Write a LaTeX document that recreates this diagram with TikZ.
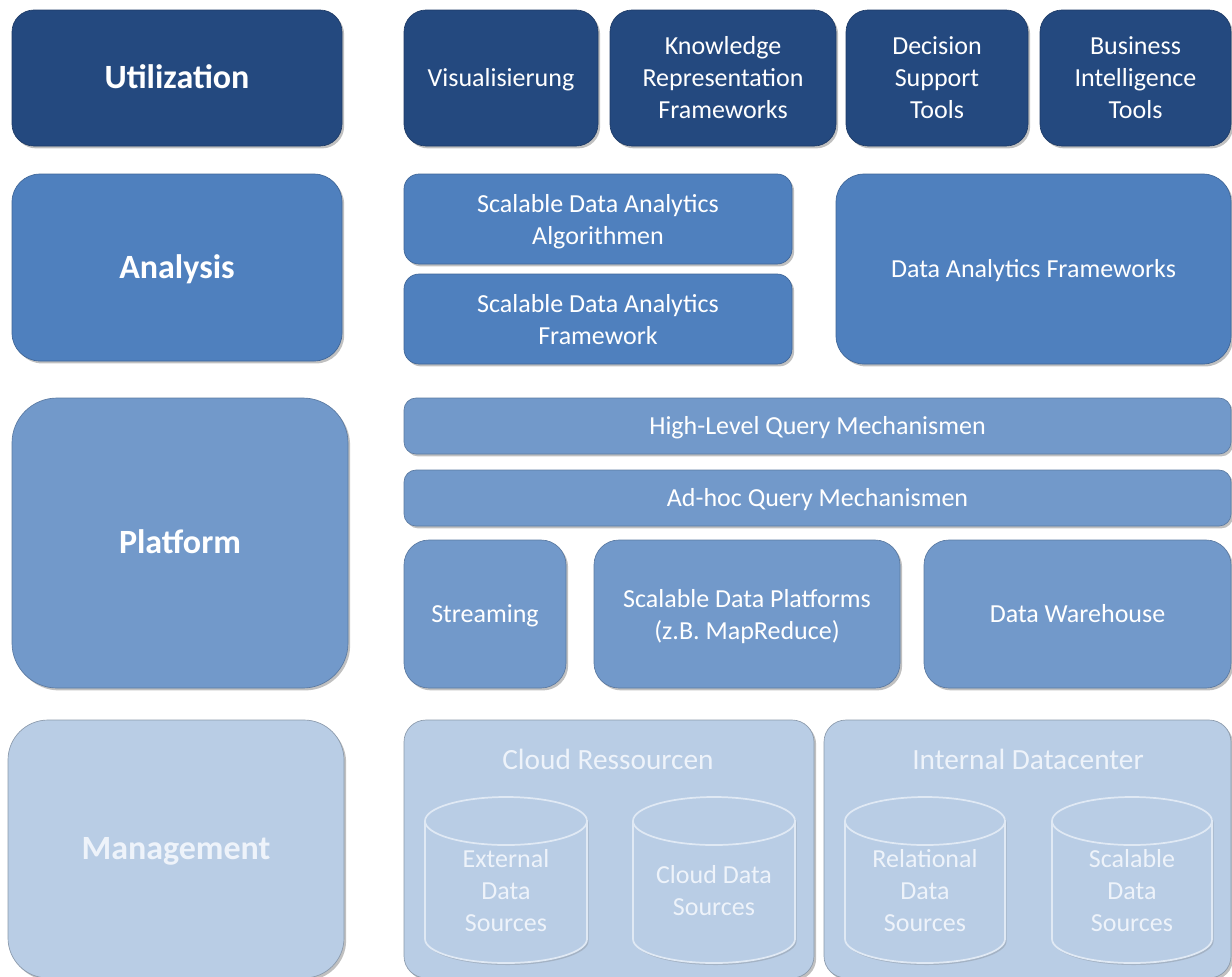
\documentclass[tikz,border=0pt]{standalone}
\usepackage{fontspec}
\setmainfont{Carlito}
\usetikzlibrary{shadows}
\definecolor{util}{HTML}{24497F}
\definecolor{ana}{HTML}{4F80BE}
\definecolor{plat}{HTML}{7299CA}
\definecolor{mgmt}{HTML}{B9CDE5}
\definecolor{mtext}{HTML}{EEF3FA}
\definecolor{cylline}{HTML}{E0E9F4}
\tikzset{
  base/.style={inner sep=0pt, align=center, text=white,
    font=\fontsize{19.5}{24}\selectfont,
    drop shadow={shadow xshift=1.6pt,shadow yshift=-1.8pt,opacity=0.35,fill=black!70}},
  ubox/.style={base, fill=util, draw=util!80!black, line width=0.5pt},
  abox/.style={base, fill=ana, draw=ana!80!black, line width=0.5pt},
  pbox/.style={base, fill=plat, draw=plat!80!black, line width=0.5pt},
  mbox/.style={base, fill=mgmt, draw=mgmt!75!black, line width=0.5pt, text=mtext},
  one/.style={text height=17pt, text depth=4.4pt},
  two/.style={text height=42pt, text depth=4pt},
  ttl/.style={font=\bfseries\fontsize{25.5}{30}\selectfont, text height=22pt, text depth=5.6pt},
  hdr/.style={text=mtext, font=\fontsize{22}{26}\selectfont, inner sep=0pt},
  ctext/.style={text=mtext, align=center, font=\fontsize{19.5}{24}\selectfont, inner sep=0pt},
  cylbody/.style={fill=mgmt, drop shadow={shadow xshift=1.2pt,shadow yshift=-1.5pt,opacity=0.25,fill=black!60}},
  cylline/.style={draw=cylline, line width=1.3pt},
}
% style, radius(px), name, x1, y1, x2, y2, text
\newcommand\blk[8]{%
  \node[#1, rounded corners={#2*0.75pt},
        minimum width={(#6-#4)*0.75pt}, minimum height={(#7-#5)*0.75pt}]
        (#3) at ({(#4+#6)/2},{(#5+#7)/2}) {#8};}
% name, x1, x2, text
\newcommand\cyl[4]{%
  \pgfmathsetmacro\cylcx{(#2+#3)/2}%
  \pgfmathsetmacro\cylrx{(#3-#2)/2*0.75}%
  \path[cylbody] (#2,821) -- (#2,939)
     arc[start angle=180,end angle=360,x radius=\cylrx pt,y radius=18pt]
     -- (#3,821)
     arc[start angle=0,end angle=180,x radius=\cylrx pt,y radius=18pt] -- cycle;
  \draw[cylline] (#2,821) -- (#2,939)
     arc[start angle=180,end angle=360,x radius=\cylrx pt,y radius=18pt]
     -- (#3,821);
  \draw[cylline] (\cylcx,821) ellipse[x radius=\cylrx pt, y radius=18pt];
  \node[ctext] (#1) at (\cylcx,891) {#4};}
\begin{document}
\begin{tikzpicture}[x=0.75pt,y=-0.75pt]
\useasboundingbox[fill=white] (0,0) rectangle (1232,976);
% Utilization row
\blk{ubox,ttl}{22}{util}{12}{10}{342}{146}{Utilization}
\blk{ubox,one}{22}{visu}{404}{10}{598}{146}{Visualisierung}
\blk{ubox}{22}{know}{610}{10}{836}{146}{Knowledge\\Representation\\Frameworks}
\blk{ubox}{22}{dss}{846}{10}{1028}{146}{Decision\\Support\\Tools}
\blk{ubox}{22}{bi}{1040}{10}{1231}{146}{Business\\Intelligence\\Tools}
% Analysis row
\blk{abox,ttl}{28}{ana}{12}{174}{342}{361}{Analysis}
\blk{abox,two}{15}{sdaa}{404}{174}{792}{264}{Scalable Data Analytics\\Algorithmen}
\blk{abox,two}{15}{sdaf}{404}{274}{792}{364}{Scalable Data Analytics\\Framework}
\blk{abox,one}{28}{daf}{836}{174}{1231}{364}{Data Analytics Frameworks}
% Platform row
\blk{pbox,ttl}{45}{plat}{12}{398}{348}{688}{Platform}
\blk{pbox,one}{12}{hlq}{404}{398}{1231}{454}{High-Level Query Mechanismen}
\blk{pbox,one}{12}{ahq}{404}{470}{1231}{526}{Ad-hoc Query Mechanismen}
\blk{pbox,one}{25}{strm}{404}{540}{566}{688}{Streaming}
\blk{pbox,two}{25}{sdp}{594}{540}{900}{688}{Scalable Data Platforms\\(z.B. MapReduce)}
\blk{pbox,one}{25}{dwh}{924}{540}{1231}{688}{Data Warehouse}
% Management row
\blk{mbox,ttl}{40}{mgmt}{8}{720}{344}{978}{Management}
\blk{mbox}{22}{cloud}{404}{720}{814}{978}{}
\blk{mbox}{22}{idc}{824}{720}{1231}{978}{}
\node[hdr] (cloudh) at (608,759) {Cloud Ressourcen};
\node[hdr] (idch) at (1028,759) {Internal Datacenter};
\cyl{ext}{425}{587}{External\\Data\\Sources}
\cyl{cds}{633}{795}{Cloud Data\\Sources}
\cyl{rel}{845}{1005}{Relational\\Data\\Sources}
\cyl{sds}{1052}{1212}{Scalable\\Data\\Sources}
\end{tikzpicture}
\end{document}
